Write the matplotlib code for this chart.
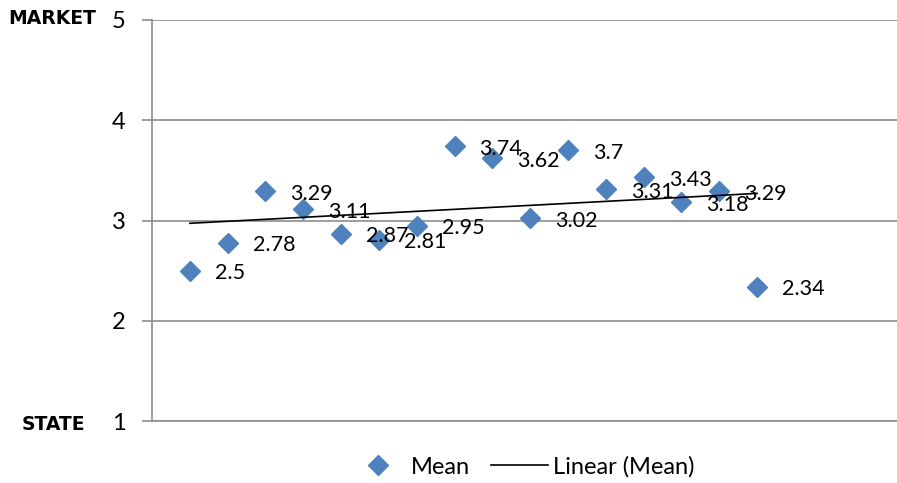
import numpy as np
import matplotlib
matplotlib.use("Agg")
import matplotlib.pyplot as plt
from matplotlib.lines import Line2D

plt.rcParams['font.family'] = ['Lato', 'DejaVu Sans']

# mean score per item
means = [2.5, 2.78, 3.29, 3.11, 2.87, 2.81, 2.95, 3.74,
         3.62, 3.02, 3.7, 3.31, 3.43, 3.18, 3.29, 2.34]
items = np.arange(1, len(means) + 1)
yticks = [1, 2, 3, 4, 5]
ytick_labels = ['1', '2', '3', '4', '5']

blue = '#4F81BD'
grid = '#8c8c8c'

fig = plt.figure(figsize=(8.97, 4.83), dpi=100)
ax = fig.add_axes([152 / 897, 1 - 421 / 483, 1 - 152 / 897, (421 - 20) / 483])

ax.set_xlim(0, 19.7)
ax.set_ylim(1, 5)
ax.set_yticks(yticks)
ax.set_yticklabels(ytick_labels, fontsize=17)
ax.set_xticks([])
ax.yaxis.grid(True, color=grid, linewidth=1.2)
ax.tick_params(axis='y', length=7, width=1.2, color=grid, pad=12)
for side in ['top', 'right']:
    ax.spines[side].set_visible(False)
for side in ['left', 'bottom']:
    ax.spines[side].set_color(grid)
    ax.spines[side].set_linewidth(1.2)
ax.set_axisbelow(True)

ax.plot(items, means, linestyle='none', marker='D', markersize=10,
        color=blue, zorder=3)

# linear trend over the items
slope, icpt = np.polyfit(items, means, 1)
ax.plot(items, slope * items + icpt, color='black', linewidth=1.2, zorder=4)

for x, y in zip(items, means):
    ax.annotate(f'{y:g}', (x, y), xytext=(18, -2), textcoords='offset points',
                ha='left', va='center', fontsize=15.5, zorder=5)

fig.text(8 / 897, 1 - 18 / 483, 'MARKET', fontsize=13.5, fontweight='bold',
         family='DejaVu Sans', ha='left', va='center')
fig.text(22 / 897, 1 - 424 / 483, 'STATE', fontsize=13.5, fontweight='bold',
         family='DejaVu Sans', ha='left', va='center')

handles = [Line2D([], [], linestyle='none', marker='D', markersize=10, color=blue),
           Line2D([], [], color='black', linewidth=1.2)]
fig.legend(handles, ['Mean', 'Linear (Mean)'], loc='center',
           bbox_to_anchor=(522 / 897, 1 - 467 / 483), ncol=2, frameon=False,
           fontsize=17, handlelength=2.4, columnspacing=0.9, handletextpad=0.2)

fig.savefig('out.png', dpi=100)
